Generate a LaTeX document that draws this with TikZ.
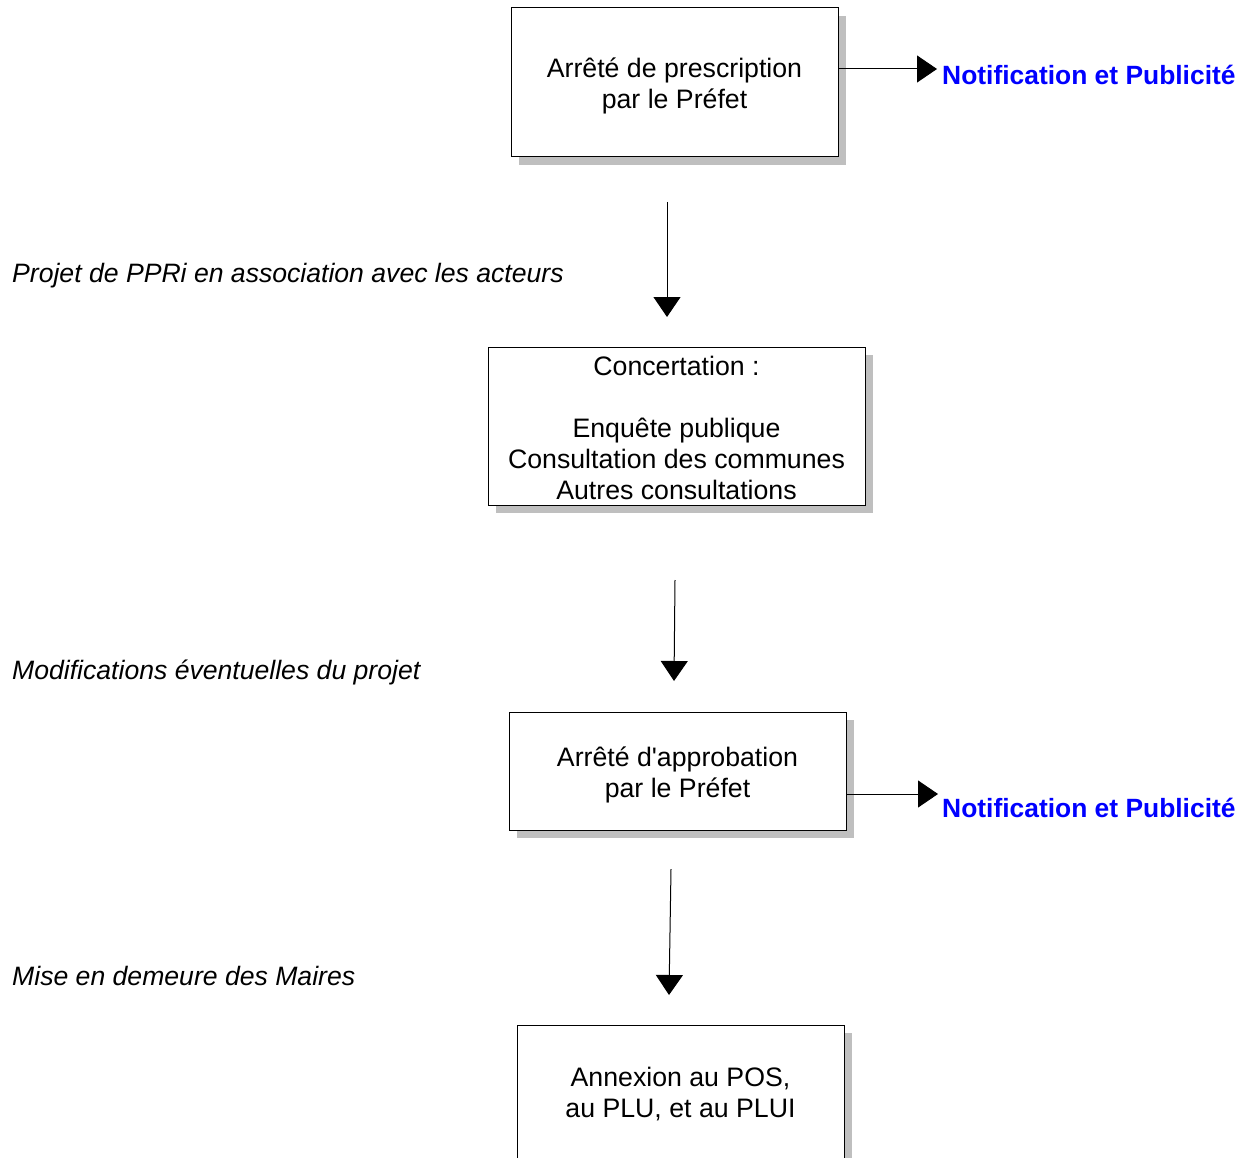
\documentclass[tikz,border=0pt]{standalone}
\usepackage{fontspec}
\setmainfont{Liberation Sans}[Ligatures=TeXOff]
\usetikzlibrary{arrows.meta,shadows}
\begin{document}
\begin{tikzpicture}[x=1pt,y=-1pt,
  txt/.style={font=\fontsize{26.7}{31}\selectfont, align=center, inner sep=0pt},
  box/.style={draw=black, line width=1pt, fill=white, inner sep=0pt,
    drop shadow={shadow xshift=8pt,shadow yshift=-8pt,fill=black!25,opacity=1}},
  lbl/.style={anchor=base west, inner sep=0pt, font=\fontsize{26.6}{31}\selectfont\itshape},
  notif/.style={anchor=base west, inner sep=0pt, text=blue, font=\fontsize{26.4}{31}\selectfont\bfseries},
  arr/.style={line width=1pt, draw=black, -{Triangle[length=20pt,width=27pt]}}]
\useasboundingbox (0,0) rectangle (1255,1158);
\clip (0,0) rectangle (1255,1158);

% boxes
\node[box, minimum width=327pt, minimum height=149pt] (b1) at (674.5,82.5) {};
\node[box, minimum width=377pt, minimum height=158pt] (b2) at (676.5,426) {};
\node[box, minimum width=337pt, minimum height=118pt] (b3) at (677.5,771) {};
\node[box, minimum width=327pt, minimum height=134pt] (b4) at (680.5,1092) {};

% box texts
\node[txt] (b1t) at ([yshift=-3pt]b1.center) {Arrêté de prescription\\par le Préfet};
\node[txt] (b2t) at ([yshift=-1.5pt]b2.center)
  {Concertation :\\[31pt]Enquête publique\\Consultation des communes\\Autres consultations};
\node[txt] (b3t) at ([yshift=-4pt]b3.center) {Arrêté d'approbation\\par le Préfet};
\node[txt] (b4t) at ([yshift=-2.5pt]b4.center) {Annexion au POS,\\au PLU, et au PLUI};

% side notifications
\node[notif] (n1) at (942,85) {Notification et Publicité};
\node[notif] (n2) at (942,817) {Notification et Publicité};
\coordinate (t1) at (937,69);
\coordinate (t2) at (938,794);
\draw[arr] (b1.east |- t1) -- (t1);
\draw[arr] (b3.east |- t2) -- (t2);

% italic labels
\node[lbl] (l1) at (12,283) {Projet de PPRi en association avec les acteurs};
\node[lbl] (l2) at (12,679) {Modifications éventuelles du projet};
\node[lbl] (l3) at (12,985) {Mise en demeure des Maires};

% vertical arrows
\coordinate (a1s) at (667,202); \coordinate (a1e) at (667,317);
\coordinate (a2s) at (675,580); \coordinate (a2e) at (674,681);
\coordinate (a3s) at (671,869); \coordinate (a3e) at (669,995);
\draw[arr] (a1s) -- (a1e);
\draw[arr] (a2s) -- (a2e);
\draw[arr] (a3s) -- (a3e);
\end{tikzpicture}
\end{document}
